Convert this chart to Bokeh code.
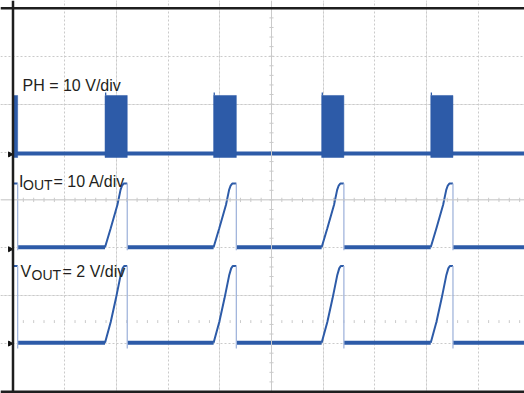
import numpy as np
from bokeh.plotting import figure
from bokeh.models import Range1d, Grid, FixedTicker, Span, Label
from bokeh.embed import file_html
from bokeh.resources import INLINE

# ---- data (time in divisions, amplitude in divisions) ----
burst_start = [1.78, 3.88, 5.97, 8.08]
burst_end = [2.21, 4.32, 6.40, 8.51]
first_edge = 0.09
t_last = 9.95

ph_base = 4.97
ph_high = 6.18
ph_spike = 6.24
ph_noise_low = 4.885

iout_base = 3.01
vout_base = 1.02

iout_rise_t = [0.0, 0.11, 0.24, 0.30, 0.33, 0.36, 0.43]
iout_rise_v = [0.0, 0.40, 0.89, 1.20, 1.29, 1.33, 1.33]
vout_rise_t = [0.0, 0.11, 0.21, 0.30, 0.34, 0.37, 0.43]
vout_rise_v = [0.0, 0.43, 0.92, 1.40, 1.55, 1.60, 1.60]
iout_undershoot = -0.06
vout_undershoot = -0.12

labels_main = ["PH = 10 V/div", "I", "= 10 A/div", "V", "= 2 V/div"]
label_sub = "OUT"

# ---- geometry ----
SX = 51.7   # px per x division
SY = 47.9   # px per y division
X0 = 12.5   # page px of x=0
Y0 = 391.0  # page px of y=0
W, H = 524, 393

def X(px):
    return (px - X0) / SX

def Y(py):
    return (Y0 - py) / SY

x_start = X(0)
x_end = X(W)
y_end = Y(0)
y_start = Y(H)

BLUE = "#2d5ba8"
EDGE = "#a3b6dc"
GRID = "#cacaca"

p = figure(width=W, height=H, x_range=Range1d(x_start, x_end), y_range=Range1d(y_start, y_end),
           x_axis_location=None, y_axis_location=None, toolbar_location=None,
           output_backend="svg", min_border=0, outline_line_color=None,
           background_fill_color="white", border_fill_color="white")

# graticule
p.add_layout(Grid(dimension=0, ticker=FixedTicker(ticks=[1, 2, 3, 4, 6, 7, 8, 9]),
                  grid_line_color=GRID, grid_line_dash="2 2", grid_line_width=1))
p.add_layout(Grid(dimension=1, ticker=FixedTicker(ticks=[1, 2, 3, 5, 6, 7]),
                  grid_line_color=GRID, grid_line_dash="2 2", grid_line_width=1))
p.add_layout(Span(location=5, dimension="height", line_color=GRID, line_width=1))
p.add_layout(Span(location=4, dimension="width", line_color=GRID, line_width=1))
tx = np.arange(0.2, 10.0, 0.2)
ty = np.arange(0.2, 8.0, 0.2)
p.segment(x0=tx, x1=tx, y0=4 - 0.045, y1=4 + 0.045, line_color=GRID, line_width=1)
p.segment(x0=5 - 0.04, x1=5 + 0.04, y0=ty, y1=ty, line_color=GRID, line_width=1)
p.segment(x0=tx, x1=tx, y0=1.46 - 0.03, y1=1.46 + 0.03, line_color=GRID, line_width=1)

# PH channel
p.line([0, t_last], [ph_base, ph_base], line_color=BLUE, line_width=4)
p.quad(left=[0.0] + burst_start, right=[first_edge] + burst_end,
       bottom=[ph_noise_low] * 5, top=[ph_high] * 5, fill_color=BLUE, line_color=BLUE, line_width=0.5)
p.quad(left=burst_start, right=[b + 0.025 for b in burst_start],
       bottom=[ph_high] * 4, top=[ph_spike] * 4, fill_color=BLUE, line_color=None)

def channel(base, rise_t, rise_v, undershoot):
    top = base + rise_v[-1]
    starts = [first_edge] + burst_end
    ends = burst_start + [t_last]
    p.multi_line(xs=[[a, b] for a, b in zip(starts, ends)], ys=[[base, base]] * len(starts),
                 line_color=BLUE, line_width=4)
    xs, ys = [[0.0, first_edge]], [[top, top]]
    for s, e in zip(burst_start, burst_end):
        xs.append([s + t for t in rise_t] + [e])
        ys.append([base + v for v in rise_v] + [top])
    p.multi_line(xs=xs, ys=ys, line_color=BLUE, line_width=2)
    edges = [first_edge] + burst_end
    p.multi_line(xs=[[e, e] for e in edges], ys=[[top, base + undershoot]] * len(edges),
                 line_color=EDGE, line_width=1.3)

channel(iout_base, iout_rise_t, iout_rise_v, iout_undershoot)
channel(vout_base, vout_rise_t, vout_rise_v, vout_undershoot)

# ground markers
p.scatter(x=[X(9.5)] * 3, y=[ph_base - 0.02, iout_base - 0.04, vout_base - 0.02], marker="triangle",
          angle=-np.pi / 2, size=5, fill_color="#111111", line_color="#111111")

# frame borders (left, top, bottom)
p.add_layout(Span(location=0, dimension="height", line_color="#1e1e1e", line_width=2.5))
p.add_layout(Span(location=Y(7.8), dimension="width", line_color="#1e1e1e", line_width=2.5))
p.add_layout(Span(location=Y(391.2), dimension="width", line_color="#1e1e1e", line_width=2.5))

# labels
FONT = "Liberation Sans"
def lab(text, px, py, size="16px"):
    p.add_layout(Label(x=X(px), y=Y(py), text=text, text_font=FONT, text_font_size=size,
                       text_color="#231f20", text_baseline="alphabetic", text_align="left"))

lab(labels_main[0], 22, 84.5)
lab(labels_main[1], 18.5, 180.5)
lab(label_sub, 22.5, 184, "14px")
lab(labels_main[2], 53, 180.5)
lab(labels_main[3], 20, 270.5)
lab(label_sub, 31, 274, "14px")
lab(labels_main[4], 62, 270.5)

open("out.html", "w").write(file_html(p, INLINE))
